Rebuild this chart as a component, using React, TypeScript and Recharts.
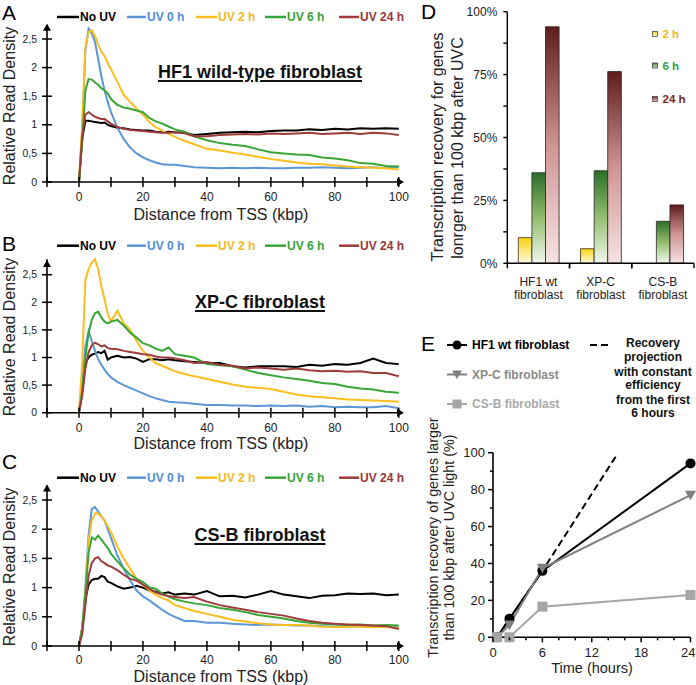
import React from 'react';
import { LineChart, Line, XAxis, YAxis, BarChart, Bar, ReferenceDot } from 'recharts';

const FONT = '"Liberation Sans", Arial, Helvetica, sans-serif';

// ---------- Panels A-C : read density profiles ----------
const kbp = [0, 1, 2, 3, 4, 5, 6, 7, 8, 9, 10, 12, 14, 16, 18, 20, 22, 24, 26, 28, 30, 33, 36, 40, 44, 48, 52, 56, 60, 64, 68, 72, 76, 80, 84, 88, 92, 96, 100];
const profileXTicks = [-10, 0, 10, 20, 30, 40, 50, 60, 70, 80, 90, 100];
const profileYTicks = [0, 0.5, 1, 1.5, 2, 2.5];

const seriesNames = ['No UV', 'UV 0 h', 'UV 2 h', 'UV 6 h', 'UV 24 h'];
const seriesKeys = ['noUV', 'uv0', 'uv2', 'uv6', 'uv24'];
const seriesColors = ['#000000', '#5b97d6', '#fcbd1f', '#38a636', '#9e3c3c'];
const legendTextColors = ['#000000', '#4f8dd6', '#f5b81a', '#34a336', '#983535'];

const A_noUV = [0, 0.75, 1.07, 1.07, 1.06, 1.05, 1.04, 1.03, 1.04, 1.0, 0.98, 0.95, 0.94, 0.92, 0.91, 0.9, 0.9, 0.88, 0.87, 0.88, 0.87, 0.86, 0.82, 0.84, 0.86, 0.87, 0.88, 0.87, 0.89, 0.9, 0.9, 0.92, 0.91, 0.93, 0.92, 0.94, 0.93, 0.94, 0.93];
const A_uv0 = [0, 0.9, 2.3, 2.68, 2.6, 2.45, 2.15, 1.85, 1.6, 1.4, 1.22, 0.95, 0.75, 0.6, 0.5, 0.43, 0.38, 0.34, 0.31, 0.3, 0.3, 0.28, 0.26, 0.25, 0.24, 0.25, 0.24, 0.25, 0.24, 0.24, 0.25, 0.25, 0.26, 0.25, 0.24, 0.25, 0.26, 0.24, 0.27];
const A_uv2 = [0, 1.0, 2.35, 2.62, 2.65, 2.55, 2.4, 2.28, 2.2, 2.08, 1.97, 1.75, 1.52, 1.4, 1.28, 1.18, 1.05, 0.96, 0.9, 0.84, 0.79, 0.72, 0.66, 0.58, 0.55, 0.51, 0.48, 0.44, 0.4, 0.37, 0.34, 0.32, 0.31, 0.29, 0.27, 0.26, 0.25, 0.24, 0.22];
const A_uv6 = [0, 0.7, 1.6, 1.8, 1.79, 1.74, 1.7, 1.64, 1.6, 1.55, 1.45, 1.35, 1.3, 1.28, 1.25, 1.22, 1.12, 1.06, 1.02, 0.97, 0.92, 0.88, 0.8, 0.73, 0.68, 0.65, 0.63, 0.57, 0.52, 0.5, 0.48, 0.47, 0.43, 0.41, 0.38, 0.33, 0.32, 0.28, 0.27];
const A_uv24 = [0, 0.8, 1.18, 1.22, 1.18, 1.14, 1.12, 1.1, 1.1, 1.06, 1.02, 0.96, 0.93, 0.91, 0.9, 0.89, 0.88, 0.87, 0.86, 0.86, 0.87, 0.85, 0.8, 0.8, 0.82, 0.83, 0.84, 0.83, 0.85, 0.84, 0.85, 0.86, 0.84, 0.85, 0.86, 0.84, 0.86, 0.85, 0.82];

const B_noUV = [0, 0.4, 0.9, 1.0, 1.05, 1.07, 1.1, 1.08, 1.12, 0.96, 1.0, 1.03, 1.0, 1.01, 0.98, 0.92, 0.97, 0.97, 0.95, 0.97, 0.95, 0.93, 0.92, 0.9, 0.9, 0.84, 0.82, 0.84, 0.84, 0.84, 0.83, 0.87, 0.85, 0.88, 0.87, 0.9, 0.98, 0.9, 0.88];
const B_uv0 = [0, 0.5, 1.2, 1.47, 1.3, 1.12, 0.97, 0.87, 0.78, 0.7, 0.64, 0.56, 0.5, 0.45, 0.4, 0.35, 0.3, 0.26, 0.23, 0.2, 0.19, 0.18, 0.16, 0.14, 0.14, 0.13, 0.13, 0.12, 0.13, 0.12, 0.13, 0.11, 0.12, 0.1, 0.11, 0.1, 0.1, 0.12, 0.08];
const B_uv2 = [0, 0.9, 2.4, 2.6, 2.72, 2.78, 2.6, 2.3, 2.05, 1.8, 1.65, 1.85, 1.62, 1.5, 1.3, 1.12, 1.0, 0.9, 0.85, 0.8, 0.75, 0.7, 0.66, 0.61, 0.56, 0.51, 0.47, 0.45, 0.43, 0.38, 0.33, 0.3, 0.28, 0.26, 0.24, 0.23, 0.22, 0.21, 0.2];
const B_uv6 = [0, 0.4, 1.0, 1.45, 1.68, 1.8, 1.83, 1.72, 1.65, 1.62, 1.65, 1.68, 1.58, 1.45, 1.36, 1.26, 1.22, 1.16, 1.12, 1.18, 1.06, 1.03, 1.0, 0.88, 0.86, 0.84, 0.78, 0.72, 0.68, 0.64, 0.61, 0.58, 0.54, 0.52, 0.47, 0.44, 0.42, 0.38, 0.36];
const B_uv24 = [0, 0.3, 0.8, 1.1, 1.22, 1.27, 1.24, 1.2, 1.22, 1.17, 1.16, 1.15, 1.12, 1.1, 1.08, 1.06, 1.05, 1.02, 1.0, 1.0, 0.98, 0.95, 0.9, 0.92, 0.87, 0.85, 0.8, 0.82, 0.8, 0.78, 0.8, 0.77, 0.75, 0.76, 0.74, 0.75, 0.72, 0.72, 0.66];

const C_noUV = [0, 0.3, 0.8, 1.05, 1.13, 1.15, 1.15, 1.2, 1.18, 1.1, 1.08, 1.02, 0.98, 1.0, 1.03, 1.0, 0.95, 0.93, 0.9, 0.92, 0.88, 0.9, 0.88, 0.94, 0.85, 0.86, 0.83, 0.88, 0.94, 0.88, 0.85, 0.82, 0.86, 0.87, 0.9, 0.89, 0.9, 0.87, 0.88];
const C_uv0 = [0, 0.3, 1.0, 1.9, 2.35, 2.38, 2.3, 2.22, 2.15, 2.0, 1.85, 1.55, 1.32, 1.12, 0.95, 0.85, 0.78, 0.7, 0.62, 0.55, 0.5, 0.43, 0.43, 0.4, 0.4, 0.38, 0.37, 0.36, 0.37, 0.36, 0.35, 0.35, 0.34, 0.33, 0.34, 0.33, 0.34, 0.33, 0.32];
const C_uv2 = [0, 0.3, 0.9, 1.8, 2.15, 2.27, 2.27, 2.22, 2.15, 2.05, 1.95, 1.7, 1.5, 1.32, 1.15, 1.05, 0.95, 0.88, 0.82, 0.78, 0.7, 0.65, 0.6, 0.55, 0.5, 0.45, 0.42, 0.39, 0.37, 0.36, 0.36, 0.35, 0.33, 0.32, 0.33, 0.33, 0.32, 0.33, 0.31];
const C_uv6 = [0, 0.3, 0.9, 1.6, 1.86, 1.82, 1.89, 1.82, 1.75, 1.68, 1.58, 1.45, 1.33, 1.22, 1.15, 1.1, 1.0, 0.98, 0.9, 0.85, 0.8, 0.76, 0.73, 0.7, 0.65, 0.62, 0.58, 0.53, 0.5, 0.47, 0.43, 0.4, 0.38, 0.37, 0.36, 0.37, 0.35, 0.36, 0.35];
const C_uv24 = [0, 0.2, 0.7, 1.2, 1.42, 1.5, 1.52, 1.45, 1.42, 1.38, 1.36, 1.3, 1.22, 1.15, 1.12, 1.05, 0.98, 0.92, 0.88, 0.85, 0.84, 0.82, 0.84, 0.76, 0.7, 0.66, 0.62, 0.58, 0.55, 0.52, 0.47, 0.43, 0.4, 0.38, 0.37, 0.36, 0.35, 0.34, 0.29];

const buildProfile = (cols: number[][]) =>
  kbp.map((x, i) => {
    const row: any = { x };
    seriesKeys.forEach((k, s) => (row[k] = cols[s][i]));
    return row;
  });

const profileA = buildProfile([A_noUV, A_uv0, A_uv2, A_uv6, A_uv24]);
const profileB = buildProfile([B_noUV, B_uv0, B_uv2, B_uv6, B_uv24]);
const profileC = buildProfile([C_noUV, C_uv0, C_uv2, C_uv6, C_uv24]);

// ---------- Panel D ----------
const dCategories = ['HF1 wt fibroblast', 'XP-C fibroblast', 'CS-B fibroblast'];
const d2h = [10.2, 5.8, 0];
const d6h = [36, 36.8, 16.7];
const d24h = [94, 76.2, 23.2];
const dYTicks = [0, 12.5, 25, 37.5, 50, 62.5, 75, 87.5, 100];
const dLegend = ['2 h', '6 h', '24 h'];
const dTable = dCategories.map((c, i) => ({ cat: c, h2: d2h[i], h6: d6h[i], h24: d24h[i] }));

// ---------- Panel E ----------
const eTime = [0.5, 2, 6, 15, 24];
const eHF1 = [0, 10.1, 36, null, 94.2];
const eXPC = [0, 6.7, 37.4, null, 77];
const eCSB = [0, 0, 16.6, null, 22.9];
const eProj = [0, null, 36, 98.5, null];
const eXTicks = [0, 2, 4, 6, 8, 10, 12, 14, 16, 18, 20, 22, 24];
const eYTicks = [0, 10, 20, 30, 40, 50, 60, 70, 80, 90, 100];
const eTable = eTime.map((t, i) => ({ t, hf1: eHF1[i], xpc: eXPC[i], csb: eCSB[i], proj: eProj[i] }));

// ---------- tick renderers ----------
const makeProfileXTick = (labelDy: number) => (p: any) => {
  const { x, y, payload } = p;
  const v = payload.value;
  return (
    <g>
      <line x1={x} x2={x} y1={y - 5} y2={y + 5} stroke="#000" strokeWidth={1.5} />
      {v >= 0 && v % 20 === 0 ? (
        <text x={x} y={y + labelDy} textAnchor="middle" fontSize={12} fontFamily={FONT} fill="#222">{v}</text>
      ) : null}
    </g>
  );
};

const ProfileYTick = (p: any) => {
  const { x, y, payload } = p;
  const v = payload.value;
  return (
    <g>
      <line x1={x - 5} x2={x + 5} y1={y} y2={y} stroke="#000" strokeWidth={1.5} />
      <text x={x - 10} y={y + 3.6} textAnchor="end" fontSize={10.5} fontFamily={FONT} fill="#222">{String(v).replace('.', ',')}</text>
    </g>
  );
};

const upArrow = (p: any) => (
  <path d={`M${p.cx - 4},${p.cy + 6} L${p.cx},${p.cy - 1} L${p.cx + 4},${p.cy + 6} Z`} fill="#000" />
);
const rightArrow = (p: any) => (
  <path d={`M${p.cx - 5},${p.cy - 4} L${p.cx + 2},${p.cy} L${p.cx - 5},${p.cy + 4} Z`} fill="#000" />
);

function ProfilePanel({ top, height, mTop, mBottom, data, labelDy }: any) {
  return (
    <div style={{ position: 'absolute', left: 0, top, width: 420, height }}>
      <LineChart width={420} height={height} data={data} margin={{ top: mTop, right: 18, bottom: mBottom - 1, left: 46 }}>
        <XAxis type="number" dataKey="x" domain={[-10, 101]} ticks={profileXTicks} interval={0} height={1}
          tickSize={0} tickMargin={0} tickLine={false} axisLine={{ stroke: '#000', strokeWidth: 1.6 }} tick={makeProfileXTick(labelDy)} />
        <YAxis type="number" domain={[0, 2.75]} ticks={profileYTicks} interval={0} width={1}
          tickSize={0} tickMargin={0} tickLine={false} axisLine={{ stroke: '#000', strokeWidth: 1.6 }} tick={ProfileYTick} />
        {seriesKeys.map((k, i) => (
          <Line key={k} type="linear" dataKey={k} stroke={seriesColors[i]} strokeWidth={2} dot={false} isAnimationActive={false} />
        ))}
        <ReferenceDot x={101} y={0} r={0} ifOverflow="visible" shape={rightArrow} />
        <ReferenceDot x={-10} y={2.75} r={0} ifOverflow="visible" shape={upArrow} />
      </LineChart>
    </div>
  );
}

const D_BAND_HALF = (276 - 87.3 - 2) / 3 / 2;

const DXTick = (p: any) => {
  const { x, y, payload } = p;
  const name: string = payload.value;
  const cut = name.lastIndexOf(' ');
  return (
    <g>
      <line x1={x - D_BAND_HALF} x2={x - D_BAND_HALF} y1={y} y2={y + 5} stroke="#000" strokeWidth={1.4} />
      <line x1={x + D_BAND_HALF} x2={x + D_BAND_HALF} y1={y} y2={y + 5} stroke="#000" strokeWidth={1.4} />
      <text x={x} y={y + 22.5} textAnchor="middle" fontSize={12} fontFamily={FONT} fill="#222">{name.slice(0, cut)}</text>
      <text x={x} y={y + 35.5} textAnchor="middle" fontSize={12} fontFamily={FONT} fill="#222">{name.slice(cut + 1)}</text>
    </g>
  );
};

const DYTick = (p: any) => {
  const { x, y, payload } = p;
  const v = payload.value;
  return (
    <g>
      <line x1={x - 4} x2={x} y1={y} y2={y} stroke="#000" strokeWidth={1.4} />
      {v % 25 === 0 ? (
        <text x={x - 10} y={y + 4.3} textAnchor="end" fontSize={12} fontFamily={FONT} fill="#222">{v}%</text>
      ) : null}
    </g>
  );
};

const EXTick = (p: any) => {
  const { x, y, payload } = p;
  const v = payload.value;
  const major = v % 6 === 0;
  const last = v === 24;
  return (
    <g>
      <line x1={x} x2={x} y1={y} y2={y + (major ? 5 : 3)} stroke="#000" strokeWidth={1.5} />
      {major ? (
        <text x={last ? x + 5 : x} y={y + 19.5} textAnchor={last ? 'end' : 'middle'} fontSize={13} fontFamily={FONT} fill="#222">{v}</text>
      ) : null}
    </g>
  );
};

const EYTick = (p: any) => {
  const { x, y, payload } = p;
  const v = payload.value;
  const major = v % 20 === 0;
  return (
    <g>
      <line x1={x - (major ? 5 : 3)} x2={x} y1={y} y2={y} stroke="#000" strokeWidth={1.5} />
      {major ? <text x={x - 8} y={y + 4.6} textAnchor="end" fontSize={13} fontFamily={FONT} fill="#222">{v}</text> : null}
    </g>
  );
};

const circleDot = (p: any) => {
  if (p.value == null || p.cy == null) return <g key={p.key} />;
  return <circle key={p.key} cx={p.cx} cy={p.cy} r={5} fill="#000" />;
};
const triangleDot = (p: any) => {
  if (p.value == null || p.cy == null) return <g key={p.key} />;
  return <path key={p.key} d={`M${p.cx - 5.5},${p.cy - 4.5} L${p.cx + 5.5},${p.cy - 4.5} L${p.cx},${p.cy + 5} Z`} fill="#7f7f7f" />;
};
const squareDot = (p: any) => {
  if (p.value == null || p.cy == null) return <g key={p.key} />;
  return <rect key={p.key} x={p.cx - 5} y={p.cy - 5} width={10} height={10} fill="#a6a6a6" />;
};

// ---------- overlay texts ----------
const legLines = [[57, 79], [127, 146], [196, 217], [265, 286], [339, 359]];
const legTextX = [80, 147, 218, 287, 360];
const legendYs = [17, 245.7, 477.7];
const titles = [
  { text: 'HF1 wild-type fibroblast', cy: 71.7 },
  { text: 'XP-C fibroblast', cy: 301.7 },
  { text: 'CS-B fibroblast', cy: 534 },
];
const yTitleYs = [106, 337, 567];
const xTitleBaselines = [220, 448.8, 682];
const recoveryLines = ['Recovery', 'projection', 'with constant', 'efficiency', 'from the first', '6 hours'];
const recoveryYs = [343, 357, 371.5, 385, 399.5, 413];
const dLegendYs = [34, 65.5, 99];
const dLegendColors = ['#f2b514', '#2f9f46', '#7a2828'];
const dGrad = ['url(#gY)', 'url(#gG)', 'url(#gR)'];

function Overlay() {
  return (
    <svg width={696} height={685} style={{ position: 'absolute', left: 0, top: 0, pointerEvents: 'none' }} fontFamily={FONT}>
      <defs>
        <linearGradient id="lgY" x1="0" y1="0" x2="0" y2="1"><stop offset="0" stopColor="#f5d21a" /><stop offset="1" stopColor="#fff6c8" /></linearGradient>
        <linearGradient id="lgG" x1="0" y1="0" x2="0" y2="1"><stop offset="0" stopColor="#3f8a3a" /><stop offset="1" stopColor="#cfe3bf" /></linearGradient>
        <linearGradient id="lgR" x1="0" y1="0" x2="0" y2="1"><stop offset="0" stopColor="#7a2a2a" /><stop offset="1" stopColor="#f0cccc" /></linearGradient>
      </defs>
      <text x={2} y={19.5} fontSize={21}>A</text>
      <text x={2} y={250.5} fontSize={21}>B</text>
      <text x={2} y={469} fontSize={21}>C</text>
      <text x={421} y={19} fontSize={21}>D</text>
      <text x={421} y={351} fontSize={21}>E</text>

      {legendYs.map((ly, li) => (
        <g key={li}>
          {seriesNames.map((n, i) => (
            <g key={n}>
              <line x1={legLines[i][0]} x2={legLines[i][1]} y1={ly} y2={ly} stroke={seriesColors[i]} strokeWidth={2.5} />
              <text x={legTextX[i]} y={ly + 4.3} fontSize={12} fontWeight="bold" fill={legendTextColors[i]}>{n}</text>
            </g>
          ))}
        </g>
      ))}

      {yTitleYs.map((cy, i) => (
        <text key={i} transform={`translate(9,${cy}) rotate(-90)`} textAnchor="middle" dominantBaseline="central" fontSize={16} fill="#222">Relative Read Density</text>
      ))}
      {xTitleBaselines.map((by, i) => (
        <text key={i} x={221} y={by} textAnchor="middle" fontSize={16} fill="#222">Distance from TSS (kbp)</text>
      ))}

      {/* Panel D titles and legend */}
      <text transform="translate(437,147) rotate(-90)" textAnchor="middle" dominantBaseline="central" fontSize={16} fill="#222">Transcription recovery for genes</text>
      <text transform="translate(457,148) rotate(-90)" textAnchor="middle" dominantBaseline="central" fontSize={16} fill="#222">lonrger than 100 kbp after UVC</text>
      {dLegend.map((n, i) => (
        <g key={n}>
          <rect x={652.5} y={dLegendYs[i] - 2.5} width={5} height={5} fill={['url(#lgY)', 'url(#lgG)', 'url(#lgR)'][i]} stroke="#333" strokeWidth={0.7} />
          <text x={662.5} y={dLegendYs[i] + 4} fontSize={11.5} fontWeight="bold" fill={dLegendColors[i]}>{n}</text>
        </g>
      ))}

      {/* Panel E texts and legend */}
      <text transform="translate(433,537.5) rotate(-90)" textAnchor="middle" dominantBaseline="central" fontSize={14.3} fill="#222">Transcription recovery of genes larger</text>
      <text transform="translate(449,537.5) rotate(-90)" textAnchor="middle" dominantBaseline="central" fontSize={14.3} fill="#222">than 100 kbp after UVC light (%)</text>
      <text x={592} y={673} textAnchor="middle" fontSize={14.5} fill="#222">Time (hours)</text>

      <line x1={447} x2={467} y1={345} y2={345} stroke="#000" strokeWidth={2} />
      <circle cx={457} cy={345} r={4.5} fill="#000" />
      <text x={472} y={349.3} fontSize={12} fontWeight="bold" fill="#000">HF1 wt fibroblast</text>
      <line x1={447} x2={467} y1={374.5} y2={374.5} stroke="#7f7f7f" strokeWidth={2} />
      <path d="M452,370.5 L462,370.5 L457,379 Z" fill="#7f7f7f" />
      <text x={472} y={378.8} fontSize={12} fontWeight="bold" fill="#8a8a8a">XP-C fibroblast</text>
      <line x1={447} x2={467} y1={404} y2={404} stroke="#a6a6a6" strokeWidth={2} />
      <rect x={452.5} y={399.5} width={9} height={9} fill="#a6a6a6" />
      <text x={472} y={408.3} fontSize={12} fontWeight="bold" fill="#a9a9a9">CS-B fibroblast</text>

      <line x1={590} x2={608} y1={345} y2={345} stroke="#000" strokeWidth={2} strokeDasharray="7 4" />
      {recoveryLines.map((t, i) => (
        <text key={t} x={653} y={recoveryYs[i] + 4.3} textAnchor="middle" fontSize={12} fontWeight="bold" fill="#111">{t}</text>
      ))}
    </svg>
  );
}

export default function App() {
  return (
    <div style={{ position: 'absolute', left: 0, top: 0, width: 696, height: 685, background: '#fff', fontFamily: FONT, overflow: 'hidden' }}>
      <ProfilePanel top={0} height={225} mTop={24.7} mBottom={43} data={profileA} labelDy={19} />
      <ProfilePanel top={225} height={225} mTop={34.25} mBottom={37.3} data={profileB} labelDy={19} />
      <ProfilePanel top={450} height={235} mTop={35.4} mBottom={39} data={profileC} labelDy={18} />

      {titles.map((t) => (
        <div key={t.text} style={{ position: 'absolute', left: 110, width: 300, top: t.cy - 10.5, height: 22, lineHeight: '22px', textAlign: 'center', fontSize: 18, fontWeight: 'bold', color: '#111', textDecoration: 'underline', textDecorationThickness: '2px', textUnderlineOffset: '2px', whiteSpace: 'nowrap' }}>
          {t.text}
        </div>
      ))}

      <div style={{ position: 'absolute', left: 420, top: 0, width: 276, height: 330 }}>
        <BarChart width={276} height={330} data={dTable} margin={{ top: 11.7, right: 2, bottom: 65.7, left: 86.3 }} barGap={0} barSize={13.6}>
          <defs>
            <linearGradient id="gY" x1="0" y1="0" x2="0" y2="1">
              <stop offset="0" stopColor="#f6d20f" />
              <stop offset="1" stopColor="#fffbe2" />
            </linearGradient>
            <linearGradient id="gG" x1="0" y1="0" x2="0" y2="1">
              <stop offset="0" stopColor="#2c6e28" />
              <stop offset="0.5" stopColor="#93bd6f" />
              <stop offset="1" stopColor="#f2f7ec" />
            </linearGradient>
            <linearGradient id="gR" x1="0" y1="0" x2="0" y2="1">
              <stop offset="0" stopColor="#5f1d1d" />
              <stop offset="0.5" stopColor="#cf9494" />
              <stop offset="1" stopColor="#f7e3e3" />
            </linearGradient>
          </defs>
          <XAxis dataKey="cat" height={1} tickSize={0} tickMargin={0} tickLine={false} interval={0}
            axisLine={{ stroke: '#000', strokeWidth: 1.4 }} tick={DXTick} />
          <YAxis type="number" domain={[0, 100]} ticks={dYTicks} interval={0} width={1} tickSize={0} tickMargin={0}
            tickLine={false} axisLine={{ stroke: '#000', strokeWidth: 1.4 }} tick={DYTick} />
          <Bar dataKey="h2" fill={dGrad[0]} stroke="#3b3020" strokeWidth={0.8} isAnimationActive={false} />
          <Bar dataKey="h6" fill={dGrad[1]} stroke="#2a2a2a" strokeWidth={0.8} isAnimationActive={false} />
          <Bar dataKey="h24" fill={dGrad[2]} stroke="#2a2020" strokeWidth={0.8} isAnimationActive={false} />
        </BarChart>
      </div>

      <div style={{ position: 'absolute', left: 420, top: 330, width: 276, height: 355 }}>
        <LineChart width={276} height={355} data={eTable} margin={{ top: 122.7, right: 5.5, bottom: 46.7, left: 72 }}>
          <XAxis type="number" dataKey="t" domain={[0, 24]} ticks={eXTicks} interval={0} height={1} tickSize={0} tickMargin={0}
            tickLine={false} axisLine={{ stroke: '#000', strokeWidth: 1.6 }} tick={EXTick} />
          <YAxis type="number" domain={[0, 100]} ticks={eYTicks} interval={0} width={1} tickSize={0} tickMargin={0}
            tickLine={false} axisLine={{ stroke: '#000', strokeWidth: 1.6 }} tick={EYTick} />
          <Line type="linear" dataKey="proj" stroke="#000" strokeWidth={2} strokeDasharray="7 4" dot={false} connectNulls isAnimationActive={false} />
          <Line type="linear" dataKey="hf1" stroke="#000" strokeWidth={2} dot={circleDot} connectNulls isAnimationActive={false} />
          <Line type="linear" dataKey="xpc" stroke="#7f7f7f" strokeWidth={2} dot={triangleDot} connectNulls isAnimationActive={false} />
          <Line type="linear" dataKey="csb" stroke="#a6a6a6" strokeWidth={2} dot={squareDot} connectNulls isAnimationActive={false} />
        </LineChart>
      </div>

      <Overlay />
    </div>
  );
}
